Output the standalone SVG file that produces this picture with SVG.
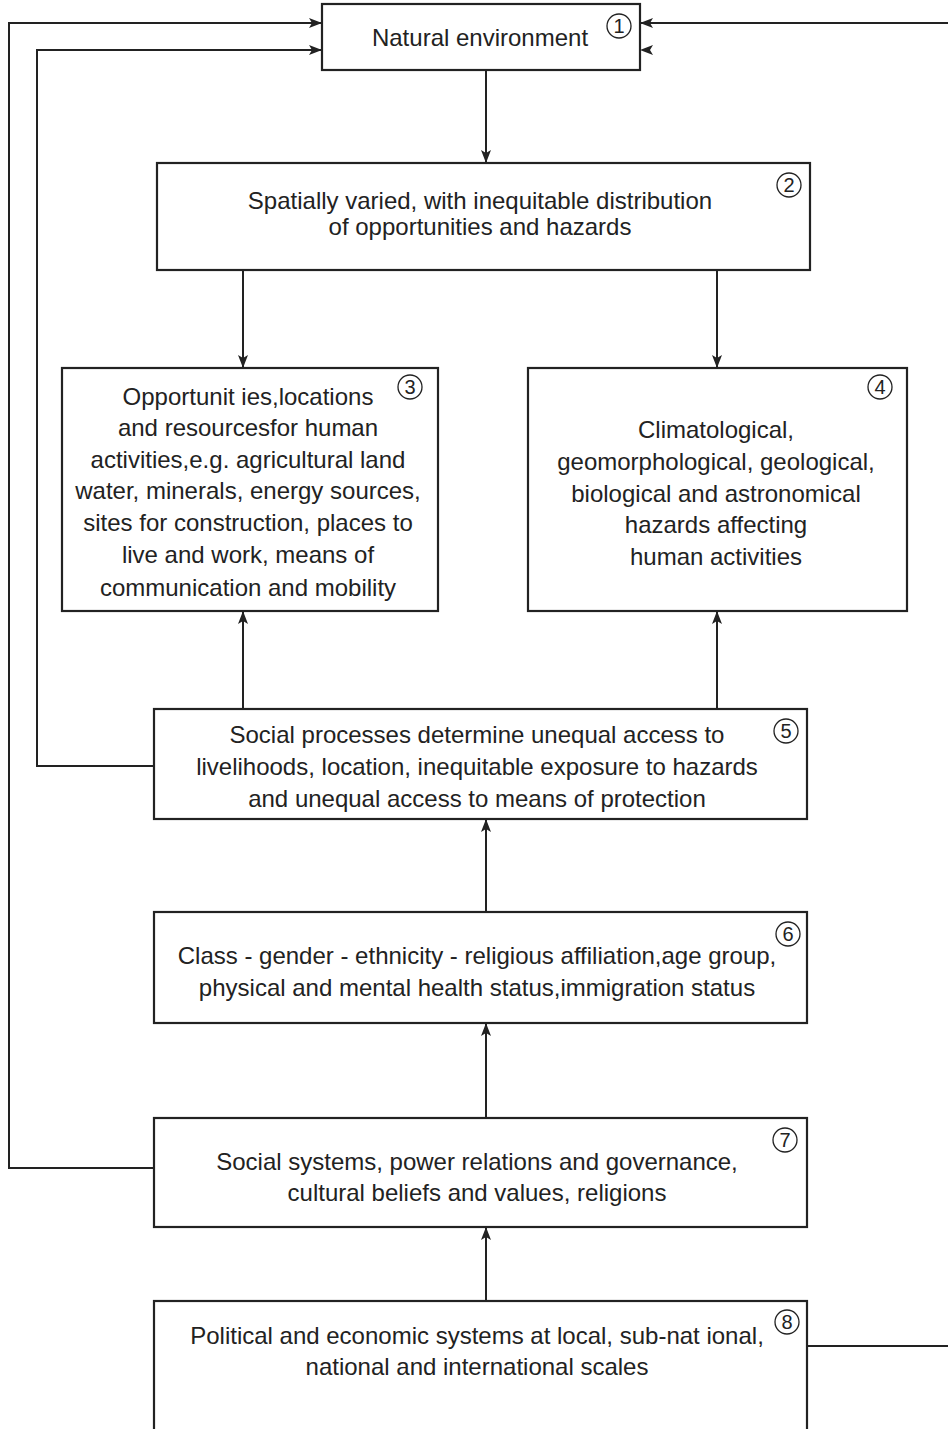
<svg xmlns="http://www.w3.org/2000/svg" width="948" height="1429" viewBox="0 0 948 1429">
<style>
.box{fill:#fff;stroke:#222;stroke-width:2.2}
.t{font-family:"Liberation Sans",Arial,sans-serif;font-size:24px;fill:#222;text-anchor:middle}
.n{font-family:"Liberation Sans",Arial,sans-serif;font-size:20px;fill:#222;text-anchor:middle}
.c{fill:none;stroke:#222;stroke-width:1.3}
.ln{fill:none;stroke:#222;stroke-width:2}
</style>
<defs>
<marker id="ah" viewBox="0 0 13 10" refX="13" refY="5" markerWidth="13" markerHeight="10" markerUnits="userSpaceOnUse" orient="auto">
<path d="M0,0 L13,5 L0,10 L3,5 Z" fill="#222"/>
</marker>
</defs>
<g id="connectors">
<polyline class="ln" points="154,1168 9,1168 9,23 322,23" marker-end="url(#ah)"/>
<polyline class="ln" points="154,766 37,766 37,50 322,50" marker-end="url(#ah)"/>
<line class="ln" x1="948" y1="23" x2="640" y2="23" marker-end="url(#ah)"/>
<path d="M640,50 L653,45 L650,50 L653,55 Z" fill="#222"/>
<line class="ln" x1="807" y1="1346" x2="948" y2="1346"/>
<line class="ln" x1="486" y1="70" x2="486" y2="163" marker-end="url(#ah)"/>
<line class="ln" x1="243" y1="270" x2="243" y2="368" marker-end="url(#ah)"/>
<line class="ln" x1="717" y1="270" x2="717" y2="368" marker-end="url(#ah)"/>
<line class="ln" x1="243" y1="709" x2="243" y2="611" marker-end="url(#ah)"/>
<line class="ln" x1="717" y1="709" x2="717" y2="611" marker-end="url(#ah)"/>
<line class="ln" x1="486" y1="912" x2="486" y2="819" marker-end="url(#ah)"/>
<line class="ln" x1="486" y1="1118" x2="486" y2="1023" marker-end="url(#ah)"/>
<line class="ln" x1="486" y1="1301" x2="486" y2="1227" marker-end="url(#ah)"/>
</g>
<g id="node1">
<rect class="box" x="322" y="4" width="318" height="66"/>
<text class="t" x="480" y="46">Natural environment</text>
<circle class="c" cx="619" cy="26" r="12"/><text class="n" x="619" y="33">1</text>
</g>
<g id="node2">
<rect class="box" x="157" y="163" width="653" height="107"/>
<text class="t" x="480" y="209">Spatially varied, with inequitable distribution</text>
<text class="t" x="480" y="235">of opportunities and hazards</text>
<circle class="c" cx="789" cy="185" r="12"/><text class="n" x="789" y="192">2</text>
</g>
<g id="node3">
<rect class="box" x="62" y="368" width="376" height="243"/>
<text class="t" x="248" y="405">Opportunit ies,locations</text>
<text class="t" x="248" y="436">and resourcesfor human</text>
<text class="t" x="248" y="468">activities,e.g. agricultural land</text>
<text class="t" x="248" y="499">water, minerals, energy sources,</text>
<text class="t" x="248" y="531">sites for construction, places to</text>
<text class="t" x="248" y="563">live and work, means of</text>
<text class="t" x="248" y="596">communication and mobility</text>
<circle class="c" cx="410" cy="387" r="12"/><text class="n" x="410" y="394">3</text>
</g>
<g id="node4">
<rect class="box" x="528" y="368" width="379" height="243"/>
<text class="t" x="716" y="438">Climatological,</text>
<text class="t" x="716" y="470">geomorphological, geological,</text>
<text class="t" x="716" y="502">biological and astronomical</text>
<text class="t" x="716" y="533">hazards affecting</text>
<text class="t" x="716" y="565">human activities</text>
<circle class="c" cx="880" cy="387" r="12"/><text class="n" x="880" y="394">4</text>
</g>
<g id="node5">
<rect class="box" x="154" y="709" width="653" height="110"/>
<text class="t" x="477" y="743">Social processes determine unequal access to</text>
<text class="t" x="477" y="775">livelihoods, location, inequitable exposure to hazards</text>
<text class="t" x="477" y="807">and unequal access to means of protection</text>
<circle class="c" cx="786" cy="731" r="12"/><text class="n" x="786" y="738">5</text>
</g>
<g id="node6">
<rect class="box" x="154" y="912" width="653" height="111"/>
<text class="t" x="477" y="964">Class - gender - ethnicity - religious affiliation,age group,</text>
<text class="t" x="477" y="996">physical and mental health status,immigration status</text>
<circle class="c" cx="788" cy="934" r="12"/><text class="n" x="788" y="941">6</text>
</g>
<g id="node7">
<rect class="box" x="154" y="1118" width="653" height="109"/>
<text class="t" x="477" y="1170">Social systems, power relations and governance,</text>
<text class="t" x="477" y="1201">cultural beliefs and values, religions</text>
<circle class="c" cx="785" cy="1140" r="12"/><text class="n" x="785" y="1147">7</text>
</g>
<g id="node8">
<rect class="box" x="154" y="1301" width="653" height="150"/>
<text class="t" x="477" y="1344">Political and economic systems at local, sub-nat ional,</text>
<text class="t" x="477" y="1375">national and international scales</text>
<circle class="c" cx="787" cy="1322" r="12"/><text class="n" x="787" y="1329">8</text>
</g>
</svg>
